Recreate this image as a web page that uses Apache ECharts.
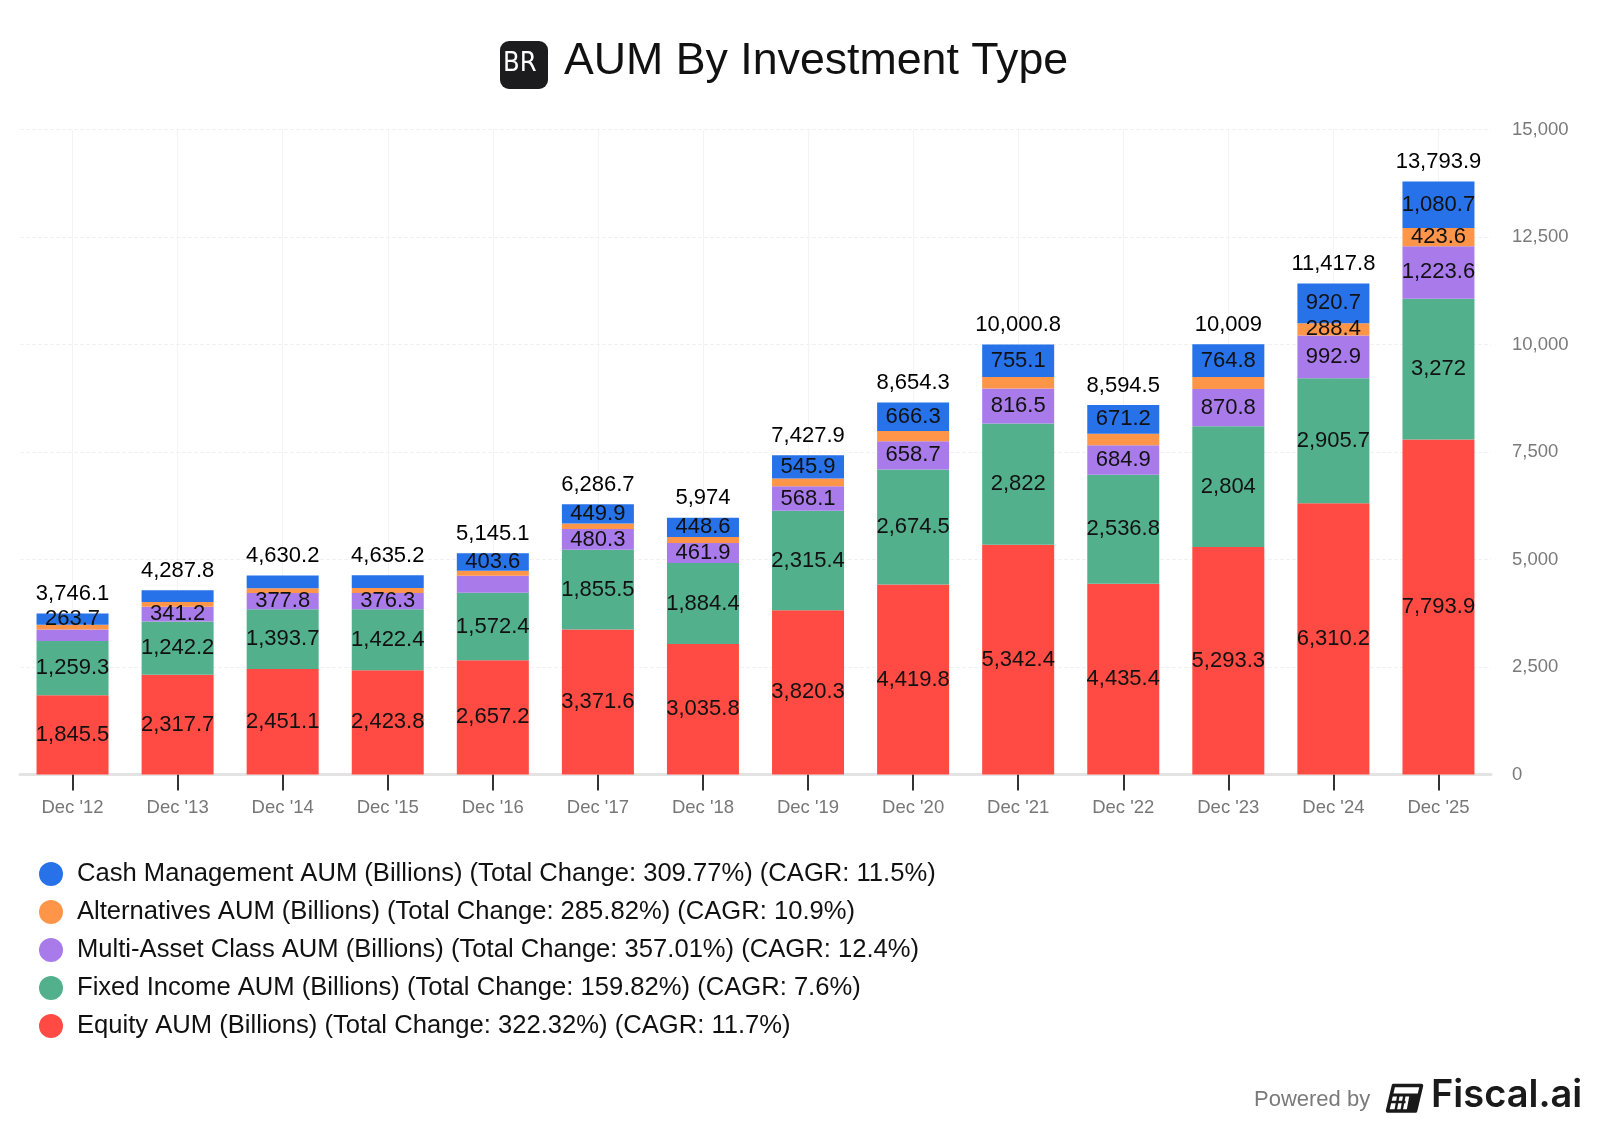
<!DOCTYPE html>
<html>
<head>
<meta charset="utf-8">
<script src="https://cdn.jsdelivr.net/npm/echarts@6/dist/echarts.min.js"></script>
<style>
  html, body { margin: 0; padding: 0; background: #ffffff; }
  #chart { width: 1600px; height: 1134px; }
</style>
</head>
<body>
<div id="chart"></div>
<script>
const categories = ["Dec '12", "Dec '13", "Dec '14", "Dec '15", "Dec '16", "Dec '17", "Dec '18", "Dec '19", "Dec '20", "Dec '21", "Dec '22", "Dec '23", "Dec '24", "Dec '25"];
const equity       = [1845.5, 2317.7, 2451.1, 2423.8, 2657.2, 3371.6, 3035.8, 3820.3, 4419.8, 5342.4, 4435.4, 5293.3, 6310.2, 7793.9];
const fixedIncome  = [1259.3, 1242.2, 1393.7, 1422.4, 1572.4, 1855.5, 1884.4, 2315.4, 2674.5, 2822, 2536.8, 2804, 2905.7, 3272];
const multiAsset   = [267.7, 341.2, 377.8, 376.3, 395.0, 480.3, 461.9, 568.1, 658.7, 816.5, 684.9, 870.8, 992.9, 1223.6];
const alternatives = [109.8, 111.1, 111.2, 112.8, 116.9, 129.4, 143.3, 178.2, 235.0, 264.8, 266.2, 276.1, 288.4, 423.6];
const cashMgmt     = [263.7, 275.6, 296.4, 299.9, 403.6, 449.9, 448.6, 545.9, 666.3, 755.1, 671.2, 764.8, 920.7, 1080.7];
const totals       = [3746.1, 4287.8, 4630.2, 4635.2, 5145.1, 6286.7, 5974, 7427.9, 8654.3, 10000.8, 8594.5, 10009, 11417.8, 13793.9];
const yTicks = { min: 0, max: 15000, interval: 2500 };

const seriesNames = {
  cash: "Cash Management AUM (Billions) (Total Change: 309.77%) (CAGR: 11.5%)",
  alt: "Alternatives AUM (Billions) (Total Change: 285.82%) (CAGR: 10.9%)",
  multi: "Multi-Asset Class AUM (Billions) (Total Change: 357.01%) (CAGR: 12.4%)",
  fixed: "Fixed Income AUM (Billions) (Total Change: 159.82%) (CAGR: 7.6%)",
  equity: "Equity AUM (Billions) (Total Change: 322.32%) (CAGR: 11.7%)"
};
// segment labels that are not shown in the reference (category indices)
const hiddenLabels = {
  equity: [],
  fixed: [],
  multi: [0, 4],
  alt: [0, 1, 2, 3, 4, 5, 6, 7, 8, 9, 10, 11],
  cash: [1, 2, 3]
};

const FONT = "'Liberation Sans', Arial, Helvetica, sans-serif";
const fmt = v => Number(v).toLocaleString('en-US', { maximumFractionDigits: 1 });

function barSeries(key, data, color) {
  return {
    name: seriesNames[key],
    type: 'bar',
    stack: 'aum',
    data: data,
    barWidth: 72,
    itemStyle: { color: color },
    emphasis: { disabled: true },
    label: {
      show: true,
      position: 'inside',
      color: '#111111',
      fontFamily: FONT,
      fontSize: 22,
      formatter: p => hiddenLabels[key].indexOf(p.dataIndex) >= 0 ? '' : fmt(p.value)
    }
  };
}

const chart = echarts.init(document.getElementById('chart'), null, { renderer: 'canvas' });

const option = {
  backgroundColor: '#ffffff',
  animation: false,
  textStyle: { fontFamily: FONT },
  grid: { left: 20, right: 109, top: 129.6, bottom: 359.5, containLabel: false, outerBoundsMode: 'none' },
  legend: {
    orient: 'vertical',
    left: 34,
    top: 856,
    itemWidth: 24,
    itemHeight: 24,
    itemGap: 12,
    icon: 'circle',
    selectedMode: false,
    data: [seriesNames.cash, seriesNames.alt, seriesNames.multi, seriesNames.fixed, seriesNames.equity],
    textStyle: { fontFamily: FONT, fontSize: 25.6, color: '#111111', lineHeight: 24, padding: [0, 0, 0, 9] }
  },
  xAxis: {
    type: 'category',
    data: categories,
    axisLine: { show: true, lineStyle: { color: '#e3e3e3', width: 3 } },
    axisTick: { show: true, alignWithLabel: true, length: 16, lineStyle: { color: '#333333', width: 2 } },
    axisLabel: { color: '#777777', fontSize: 18.5, fontFamily: FONT, margin: 24 },
    splitLine: { show: true, alignWithLabel: true, lineStyle: { color: '#f4f4f4', width: 1 } }
  },
  yAxis: {
    type: 'value',
    position: 'right',
    min: yTicks.min,
    max: yTicks.max,
    interval: yTicks.interval,
    axisLine: { show: false },
    axisTick: { show: false },
    axisLabel: { color: '#7a7a7a', fontSize: 18.5, fontFamily: FONT, margin: 21, formatter: v => fmt(v) },
    splitLine: { show: true, lineStyle: { color: '#f1f1f1', width: 1, type: 'dashed' } }
  },
  series: [
    barSeries('equity', equity, '#FF4B43'),
    barSeries('fixed', fixedIncome, '#52B08D'),
    barSeries('multi', multiAsset, '#A97BEA'),
    barSeries('alt', alternatives, '#FF9548'),
    barSeries('cash', cashMgmt, '#2772E9'),
    {
      name: 'Total',
      type: 'scatter',
      data: totals,
      symbolSize: 1,
      itemStyle: { color: 'rgba(0,0,0,0)' },
      emphasis: { disabled: true },
      silent: true,
      z: 10,
      label: {
        show: true,
        position: 'top',
        distance: 8,
        color: '#000000',
        opacity: 1,
        textBorderWidth: 0,
        fontFamily: FONT,
        fontSize: 22,
        formatter: p => fmt(p.value)
      }
    }
  ],
  graphic: [
    {
      type: 'rect',
      left: 500, top: 41,
      shape: { width: 48, height: 48, r: 9 },
      style: { fill: '#1c1c1e' }
    },
    {
      type: 'text',
      left: 503, top: 50,
      style: { text: 'BR', fill: '#ffffff', font: "27px 'DejaVu Sans Condensed', 'Liberation Sans Narrow', sans-serif", width: 42, align: 'center' }
    },
    {
      type: 'text',
      left: 564, top: 39,
      style: { text: 'AUM By Investment Type', fill: '#111111', font: "44.7px 'Liberation Sans', Arial, sans-serif" }
    },
    {
      type: 'text',
      left: 1254, top: 1089,
      style: { text: 'Powered by', fill: '#7a7a7a', font: "22px 'Liberation Sans', Arial, sans-serif" }
    },
    {
      type: 'group',
      left: 1385, top: 1083,
      children: [
        { type: 'polygon', shape: { points: [[7, 1.5], [35, 1.5], [29, 27], [1, 27]] }, style: { fill: 'none', stroke: '#1a1a1a', lineWidth: 3.5, lineJoin: 'round' } },
        { type: 'line', shape: { x1: 5, y1: 11, x2: 33, y2: 11 }, style: { stroke: '#1a1a1a', lineWidth: 3 } },
        { type: 'line', shape: { x1: 12, y1: 11, x2: 9, y2: 27 }, style: { stroke: '#1a1a1a', lineWidth: 2.5 } },
        { type: 'line', shape: { x1: 18, y1: 11, x2: 15, y2: 27 }, style: { stroke: '#1a1a1a', lineWidth: 2.5 } },
        { type: 'line', shape: { x1: 4, y1: 18, x2: 19, y2: 18 }, style: { stroke: '#1a1a1a', lineWidth: 2.5 } },
        { type: 'polygon', shape: { points: [[23, 11], [33, 11], [29, 27], [20, 27]] }, style: { fill: '#1a1a1a' } }
      ]
    },
    {
      type: 'text',
      left: 1431, top: 1077,
      style: { text: 'Fiscal.ai', fill: '#1a1a1a', font: "600 38px Inter, 'Liberation Sans', Arial, sans-serif" }
    }
  ]
};

chart.setOption(option);
</script>
</body>
</html>
